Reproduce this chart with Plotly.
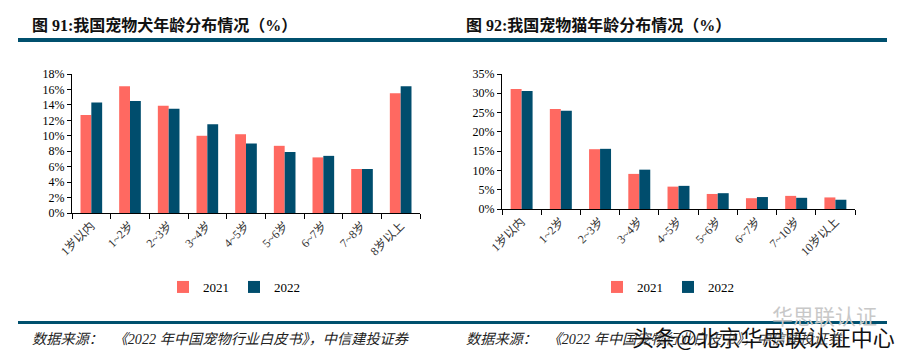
import plotly.graph_objects as go

# ---- data ----
dog_categories = ["1岁以内", "1~2岁", "2~3岁", "3~4岁", "4~5岁", "5~6岁", "6~7岁", "7~8岁", "8岁以上"]
dog_2021 = [12.7, 16.4, 13.9, 10.0, 10.2, 8.7, 7.2, 5.7, 15.5]
dog_2022 = [14.3, 14.5, 13.5, 11.5, 9.0, 7.9, 7.4, 5.7, 16.4]

cat_categories = ["1岁以内", "1~2岁", "2~3岁", "3~4岁", "4~5岁", "5~6岁", "6~7岁", "7~10岁", "10岁以上"]
cat_2021 = [31.1, 25.9, 15.5, 9.1, 5.8, 3.9, 2.8, 3.4, 3.0]
cat_2022 = [30.6, 25.5, 15.6, 10.2, 6.0, 4.1, 3.1, 2.9, 2.4]

dog_ticks = [0, 2, 4, 6, 8, 10, 12, 14, 16, 18]
cat_ticks = [0, 5, 10, 15, 20, 25, 30, 35]

series_names = ["2021", "2022"]
title_left = "图 91:我国宠物犬年龄分布情况（%）"
title_right = "图 92:我国宠物猫年龄分布情况（%）"
source_text = "数据来源：   《2022 年中国宠物行业白皮书》，中信建投证券"

# ---- style ----
C21 = "#FF6961"
C22 = "#004D6D"
LINE = "#00506E"
W, H = 908, 359
SERIF = "Liberation Serif, Times New Roman, Noto Sans CJK SC"


def px_x(v):
    return v / W


def px_y(v):
    return 1 - v / H


fig = go.Figure()

for xa, ya, lg, cats, s1, s2 in [
    ("x", "y", "legend", dog_categories, dog_2021, dog_2022),
    ("x2", "y2", "legend2", cat_categories, cat_2021, cat_2022),
]:
    fig.add_trace(go.Bar(x=cats, y=s1, name=series_names[0], marker_color=C21,
                         marker_line_width=0, xaxis=xa, yaxis=ya, legend=lg))
    fig.add_trace(go.Bar(x=cats, y=s2, name=series_names[1], marker_color=C22,
                         marker_line_width=0, xaxis=xa, yaxis=ya, legend=lg))

xaxis_common = dict(type="category", showline=True, linecolor="black", linewidth=1,
                    ticks="outside", tickson="boundaries", ticklen=5, tickcolor="black",
                    tickangle=-45, showgrid=False, zeroline=False, automargin=False,
                    tickfont=dict(family=SERIF, size=12, color="#333"))
yaxis_common = dict(showline=True, linecolor="black", linewidth=1, ticks="outside",
                    ticklen=4, tickcolor="black", showgrid=False, zeroline=False,
                    automargin=False, tickmode="array",
                    tickfont=dict(family=SERIF, size=12, color="black"))

legend_common = dict(orientation="h", xanchor="center", yanchor="middle",
                     font=dict(family=SERIF, size=13, color="black"), itemwidth=30,
                     bgcolor="rgba(0,0,0,0)")

fig.update_layout(
    template="none",
    width=W, height=H,
    margin=dict(l=0, r=0, t=0, b=0),
    paper_bgcolor="white", plot_bgcolor="white",
    barmode="group", bargap=0.44, bargroupgap=0,
    xaxis=dict(domain=[px_x(72), px_x(420)], anchor="y", **xaxis_common),
    yaxis=dict(domain=[px_y(213), px_y(74)], anchor="x", range=[0, 18],
               tickvals=dog_ticks, ticktext=[f"{v}%" for v in dog_ticks], **yaxis_common),
    xaxis2=dict(domain=[px_x(502), px_x(855)], anchor="y2", **xaxis_common),
    yaxis2=dict(domain=[px_y(209), px_y(74)], anchor="x2", range=[0, 35],
                tickvals=cat_ticks, ticktext=[f"{v}%" for v in cat_ticks], **yaxis_common),
    legend=dict(x=px_x(234), y=px_y(287), **legend_common),
    legend2=dict(x=px_x(668), y=px_y(287), **legend_common),
    showlegend=True,
)

# decorative rules
for x0, x1 in [(18, 454), (454, 887)]:
    fig.add_shape(type="rect", xref="paper", yref="paper", x0=px_x(x0), x1=px_x(x1),
                  y0=px_y(42), y1=px_y(38), fillcolor=LINE, line_width=0)
    fig.add_shape(type="rect", xref="paper", yref="paper", x0=px_x(x0), x1=px_x(x1),
                  y0=px_y(324), y1=px_y(321), fillcolor=LINE, line_width=0)

# titles
for x0, t in [(30, title_left), (464, title_right)]:
    fig.add_annotation(xref="paper", yref="paper", x=px_x(x0), y=px_y(25), xanchor="left",
                       yanchor="middle", showarrow=False, text="<b>" + t + "</b>",
                       font=dict(family=SERIF, size=16, color="#111"))

# sources
for x0 in [30, 464]:
    fig.add_annotation(xref="paper", yref="paper", x=px_x(x0), y=px_y(339), xanchor="left",
                       yanchor="middle", showarrow=False, text="<i>" + source_text + "</i>",
                       font=dict(family=SERIF, size=14.2, color="#222"))

# watermark (present in the reference image, overlapping the right source line)
fig.add_annotation(xref="paper", yref="paper", x=px_x(879), y=px_y(315), xanchor="right",
                   yanchor="middle", showarrow=False, text="华思联认证",
                   font=dict(family="Noto Sans CJK SC", size=21, color="#c8c8c8"))
fig.add_annotation(xref="paper", yref="paper", x=px_x(897), y=px_y(336), xanchor="right",
                   yanchor="middle", showarrow=False, text="头条@北京华思联认证中心",
                   font=dict(family="Noto Sans CJK SC", size=22, color="#111",
                             shadow="0px 0px 3px white"))

fig.write_html("out.html", config={"displayModeBar": False},
               post_script="document.body.style.margin='0';document.body.style.overflow='hidden';")
